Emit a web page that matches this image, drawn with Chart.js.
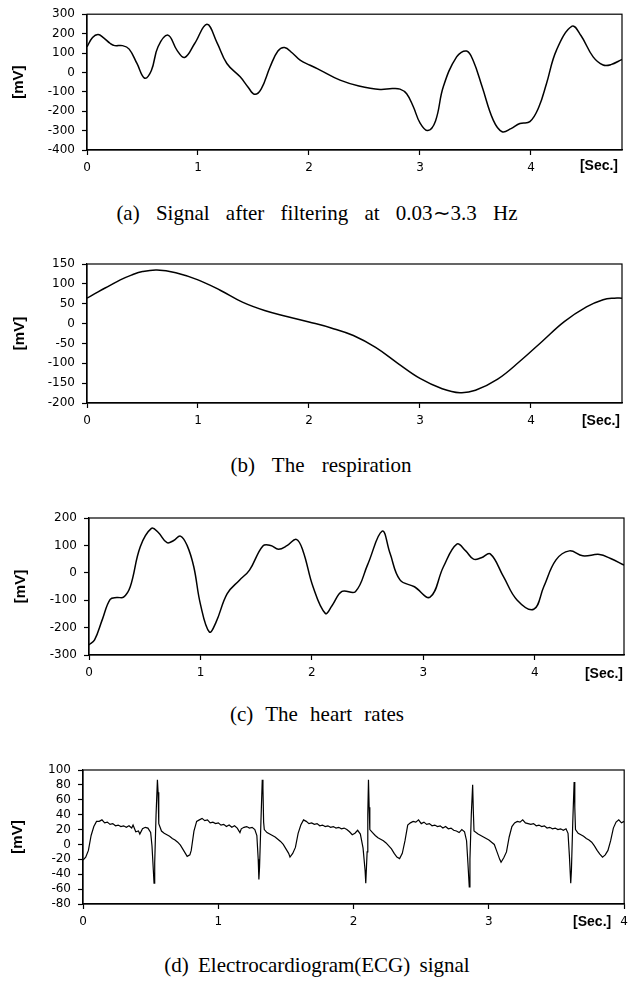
<!DOCTYPE html>
<html>
<head>
<meta charset="utf-8">
<script src="https://cdn.jsdelivr.net/npm/chart.js@4.4.1/dist/chart.umd.min.js"></script>
<style>
  body { margin: 0; background: #fff; width: 634px; height: 986px; position: relative; overflow: hidden; }
  canvas { position: absolute; left: 0; }
  .cap {
    position: absolute; left: 0; width: 634px; text-align: center;
    font-family: "Liberation Serif", "Times New Roman", serif; font-size: 21px;
    word-spacing: 6px; line-height: 24px; color: #000;
  }
</style>
</head>
<body>
<canvas id="chartA" width="634" height="190" style="top:0px"></canvas>
<canvas id="chartB" width="634" height="200" style="top:240px"></canvas>
<canvas id="chartC" width="634" height="200" style="top:495px"></canvas>
<canvas id="chartD" width="634" height="200" style="top:745px"></canvas>
<div class="cap" style="top:201px; word-spacing:11px">(a) Signal after filtering at 0.03∼3.3 Hz</div>
<div class="cap" style="top:453px; padding-left:4px; word-spacing:12px">(b) The respiration</div>
<div class="cap" style="top:702px; word-spacing:7px">(c) The heart rates</div>
<div class="cap" style="top:953px; word-spacing:4px">(d) Electrocardiogram(ECG) signal</div>
<script>
// (a) filtered signal, 0.03~3.3 Hz
const filteredSec = [0.00, 0.05, 0.10, 0.15, 0.21, 0.25, 0.32, 0.38, 0.45, 0.52, 0.58, 0.64, 0.73, 0.81, 0.88, 0.97,
  1.08, 1.17, 1.26, 1.38, 1.45, 1.51, 1.57, 1.65, 1.72, 1.78, 1.85, 1.92, 2.01, 2.10, 2.28, 2.45, 2.64, 2.75, 2.82,
  2.88, 2.94, 3.00, 3.07, 3.14, 3.21, 3.33, 3.42, 3.48, 3.56, 3.66, 3.74, 3.82, 3.90, 3.99, 4.07, 4.14, 4.23,
  4.37, 4.45, 4.56, 4.65, 4.72, 4.82];
const filteredMv = [132, 180, 195, 178, 149, 138, 138, 120, 46, -30, 10, 132, 192, 115, 77, 149,
  248, 155, 46, -23, -75, -113, -85, 29, 110, 128, 100, 63, 37, 12, -40, -70, -88, -83, -86,
  -110, -177, -260, -300, -250, -74, 80, 110, 60, -74, -246, -306, -290, -263, -254, -180, -57, 115,
  238, 190, 80, 38, 40, 67];

// (b) respiration
const respSec = [0.00, 0.10, 0.20, 0.30, 0.40, 0.50, 0.63, 0.80, 1.00, 1.20, 1.40, 1.60, 1.80, 2.00, 2.20, 2.40,
  2.60, 2.80, 3.00, 3.20, 3.36, 3.50, 3.70, 3.90, 4.10, 4.30, 4.50, 4.65, 4.75, 4.82];
const respMv = [64, 80, 95, 110, 122, 131, 135, 128, 110, 84, 54, 33, 18, 4, -11, -30,
  -60, -100, -138, -164, -174, -168, -140, -95, -45, 5, 42, 60, 64, 64];

// (c) heart rates
const heartSec = [0.00, 0.05, 0.12, 0.19, 0.25, 0.31, 0.37, 0.46, 0.56, 0.62, 0.70, 0.76, 0.82, 0.88, 0.94, 1.00,
  1.08, 1.14, 1.24, 1.35, 1.44, 1.56, 1.63, 1.70, 1.78, 1.86, 1.92, 2.01, 2.12, 2.18, 2.27, 2.39, 2.50, 2.63,
  2.70, 2.79, 2.92, 3.06, 3.18, 3.30, 3.38, 3.45, 3.52, 3.60, 3.72, 3.84, 3.99, 4.08, 4.19, 4.31, 4.43, 4.58,
  4.68, 4.80];
const heartMv = [-263, -245, -170, -97, -90, -89, -51, 95, 162, 148, 110, 118, 134, 100, 22, -115,
  -216, -180, -76, -27, 10, 98, 100, 86, 100, 122, 80, -51, -148, -120, -68, -69, 30, 152,
  72, -26, -51, -89, 22, 105, 80, 50, 55, 69, -15, -99, -133, -51, 47, 80, 62, 67,
  52, 28];

// (d) ECG
const ecgSec = [0.00, 0.02, 0.04, 0.06, 0.08, 0.10, 0.12, 0.14, 0.16, 0.18, 0.20, 0.22, 0.24, 0.26, 0.28, 0.30,
  0.32, 0.34, 0.36, 0.37, 0.39, 0.41, 0.42, 0.44, 0.46, 0.48, 0.50, 0.51, 0.52, 0.525, 0.53, 0.54, 0.55, 0.555,
  0.56, 0.58, 0.60, 0.62, 0.64, 0.66, 0.68, 0.70, 0.72, 0.74, 0.76, 0.77, 0.79, 0.80, 0.82, 0.84, 0.86, 0.88,
  0.90, 0.92, 0.94, 0.96, 0.98, 1.00, 1.02, 1.04, 1.06, 1.08, 1.10, 1.12, 1.14, 1.16, 1.17, 1.19, 1.21, 1.23,
  1.25, 1.27, 1.285, 1.295, 1.30, 1.305, 1.315, 1.325, 1.33, 1.335, 1.34, 1.36, 1.38, 1.40, 1.42, 1.44, 1.46,
  1.48, 1.50, 1.52, 1.53, 1.55, 1.57, 1.59, 1.61, 1.63, 1.65, 1.67, 1.69, 1.71, 1.73, 1.75, 1.77, 1.79, 1.81,
  1.83, 1.85, 1.87, 1.89, 1.91, 1.93, 1.95, 1.97, 1.99, 2.01, 2.03, 2.05, 2.07, 2.085, 2.09, 2.10, 2.105, 2.11,
  2.115, 2.12, 2.14, 2.16, 2.18, 2.20, 2.22, 2.24, 2.26, 2.28, 2.30, 2.32, 2.34, 2.36, 2.38, 2.40, 2.42, 2.44,
  2.46, 2.48, 2.50, 2.52, 2.54, 2.56, 2.58, 2.60, 2.62, 2.64, 2.66, 2.68, 2.70, 2.72, 2.74, 2.76, 2.78, 2.80,
  2.82, 2.835, 2.845, 2.855, 2.86, 2.87, 2.88, 2.885, 2.89, 2.92, 2.94, 2.96, 2.98, 3.00, 3.02, 3.04, 3.06,
  3.08, 3.09, 3.11, 3.13, 3.15, 3.17, 3.19, 3.21, 3.23, 3.25, 3.27, 3.29, 3.31, 3.33, 3.35, 3.37, 3.39, 3.41,
  3.43, 3.45, 3.47, 3.49, 3.51, 3.53, 3.55, 3.57, 3.585, 3.595, 3.605, 3.61, 3.62, 3.63, 3.635, 3.64, 3.66,
  3.68, 3.70, 3.72, 3.74, 3.76, 3.78, 3.80, 3.82, 3.84, 3.86, 3.88, 3.90, 3.92, 3.94, 3.96, 3.98, 4.00];
const ecgMv = [-21, -17, -8, 12, 24, 31, 31, 33, 29, 30, 27, 28, 25, 26, 24, 25,
  23, 25, 22, 26, 17, 18, 14, 21, 23, 22, 16, -2, -35, -52, -25, 40, 87, 70,
  28, 18, 15, 13, 11, 8, 6, 3, -1, -7, -13, -16, -14, -8, 18, 31, 33, 35,
  32, 33, 29, 30, 28, 29, 26, 27, 24, 26, 23, 25, 22, 16, 21, 23, 24, 22,
  23, 20, 12, -20, -47, -30, 30, 87, 75, 30, 20, 16, 14, 12, 10, 7, 4,
  0, -6, -12, -17, -12, -4, 15, 26, 33, 31, 28, 29, 27, 28, 25, 26, 24, 25,
  23, 24, 22, 23, 21, 22, 20, 17, 13, 15, 19, 14, -5, -35, -52, -10, 40, 87,
  50, 20, 16, 12, 9, 7, 5, 2, -2, -6, -12, -17, -19, -12, 5, 26, 29, 31,
  30, 33, 28, 30, 27, 28, 25, 26, 24, 25, 22, 24, 21, 22, 19, 18, 16, 20,
  17, 5, -25, -57, -20, 40, 80, 45, 18, 14, 12, 10, 8, 6, 3, 0, -10,
  -20, -24, -18, -10, 10, 24, 29, 31, 30, 33, 29, 28, 27, 28, 25, 26, 24, 25,
  22, 23, 21, 22, 20, 21, 19, 21, 15, -15, -52, -35, 30, 84, 50, 20, 15,
  13, 11, 8, 6, 3, -2, -8, -13, -17, -14, -8, 5, 22, 30, 33, 29, 31];

const tickFont = { family: '"DejaVu Sans", Arial, sans-serif', size: 12 };

const framePlugin = {
  id: 'frame',
  afterDraw(chart, args, opts) {
    const { ctx, chartArea } = chart;
    ctx.save();
    ctx.strokeStyle = '#000';
    ctx.lineWidth = 1.2;
    ctx.strokeRect(chartArea.left, chartArea.top, chartArea.right - chartArea.left, chartArea.bottom - chartArea.top);
    ctx.font = 'bold 14px "Liberation Sans", Arial, sans-serif';
    ctx.fillStyle = '#000';
    ctx.textAlign = 'right';
    ctx.textBaseline = 'middle';
    ctx.fillText('[Sec.]', chartArea.right - opts.secInset, chartArea.bottom + opts.secDrop);
    ctx.restore();
  }
};

function makePanel(id, p) {
  const canvas = document.getElementById(id);
  const points = p.sec.map((t, i) => ({ x: t, y: p.mv[i] }));
  return new Chart(canvas.getContext('2d'), {
    type: 'line',
    data: {
      datasets: [{
        data: points,
        borderColor: '#000',
        borderWidth: p.lineWidth,
        pointRadius: 0,
        fill: false,
        tension: p.smooth ? 0.4 : 0
      }]
    },
    options: {
      responsive: false,
      animation: false,
      events: [],
      layout: { padding: { top: p.top - p.canvasTop, right: 634 - p.right, left: 0, bottom: 0 } },
      plugins: {
        legend: { display: false },
        tooltip: { enabled: false },
        frame: { secInset: p.secInset, secDrop: p.secDrop }
      },
      scales: {
        x: {
          type: 'linear',
          min: 0,
          max: p.xMax,
          ticks: { stepSize: 1, includeBounds: false, autoSkip: false, maxRotation: 0, padding: 6, color: '#000', font: tickFont },
          grid: { drawOnChartArea: false, drawTicks: true, tickLength: 5, tickColor: '#000', tickWidth: 1.2 },
          border: { color: '#000', width: 1.2 },
          afterFit: (scale) => { scale.height = canvas.height - (p.bottom - p.canvasTop); }
        },
        y: {
          min: p.yMin,
          max: p.yMax,
          ticks: { stepSize: p.yStep, autoSkip: false, padding: 7, color: '#000', font: tickFont },
          grid: { drawOnChartArea: false, drawTicks: true, tickLength: 5, tickColor: '#000', tickWidth: 1.2 },
          border: { color: '#000', width: 1.2 },
          title: {
            display: true,
            text: '[mV]',
            color: '#000',
            font: { family: '"Liberation Sans", Arial, sans-serif', size: 15, weight: 'bold' },
            padding: { top: p.titlePad, bottom: 0 }
          },
          afterFit: (scale) => { scale.width = p.left; }
        }
      }
    },
    plugins: [framePlugin]
  });
}

makePanel('chartA', { sec: filteredSec, mv: filteredMv, smooth: true, lineWidth: 1.5,
  canvasTop: 0, left: 87, right: 622, top: 14, bottom: 150, xMax: 4.82,
  yMin: -400, yMax: 300, yStep: 100, titlePad: 10, secInset: 4, secDrop: 16 });
makePanel('chartB', { sec: respSec, mv: respMv, smooth: true, lineWidth: 1.5,
  canvasTop: 240, left: 87, right: 622, top: 264, bottom: 403, xMax: 4.82,
  yMin: -200, yMax: 150, yStep: 50, titlePad: 11, secInset: 2, secDrop: 18 });
makePanel('chartC', { sec: heartSec, mv: heartMv, smooth: true, lineWidth: 1.5,
  canvasTop: 495, left: 89, right: 624, top: 518, bottom: 655, xMax: 4.80,
  yMin: -300, yMax: 200, yStep: 100, titlePad: 12, secInset: 1, secDrop: 19 });
makePanel('chartD', { sec: ecgSec, mv: ecgMv, smooth: false, lineWidth: 1.2,
  canvasTop: 745, left: 83, right: 625, top: 770, bottom: 904, xMax: 4,
  yMin: -80, yMax: 100, yStep: 20, titlePad: 9, secInset: 13, secDrop: 18 });
</script>
</body>
</html>
